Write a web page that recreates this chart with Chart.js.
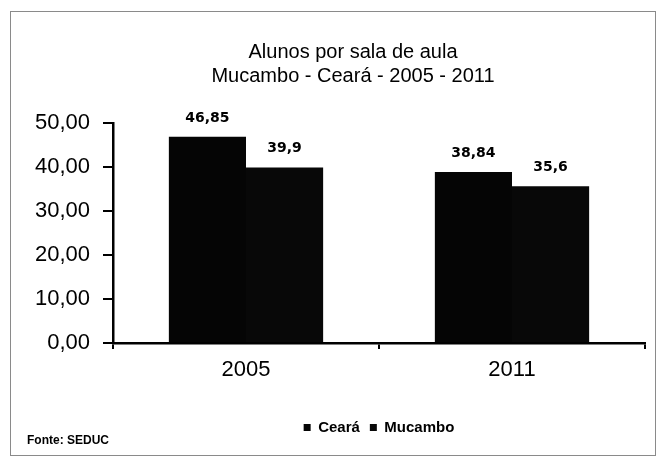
<html>
<head>
<meta charset="utf-8">
<title>Alunos por sala de aula</title>
<script src="https://cdn.jsdelivr.net/npm/chart.js@4.4.1/dist/chart.umd.min.js"></script>
<style>
  body { margin: 0; background: #fff; }
  #wrap { position: relative; width: 664px; height: 462px; }
  #frame { position: absolute; left: 10px; top: 11px; width: 644px; height: 443px; border: 1.5px solid #8a8a8a; }
  #fonte { position: absolute; left: 27px; top: 433px; font: bold 12px "Liberation Sans", Arial, sans-serif; color: #000; }
  canvas { position: absolute; left: 0; top: 0; }
</style>
</head>
<body>
<div id="wrap">
  <div id="frame"></div>
  <canvas id="chart" width="664" height="462"></canvas>
  <div id="fonte">Fonte: SEDUC</div>
</div>
<script>
  // dados
  var anos = ["2005", "2011"];
  var ceara = [46.85, 38.84];
  var mucambo = [39.9, 35.6];
  var yTicks = [0, 10, 20, 30, 40, 50];
  var titulo = ['Alunos por sala de aula', 'Mucambo - Ceará - 2005 - 2011'];

  function virgula(v) { return String(v).replace('.', ','); }

  // rotulos em cima das barras + titulo (centrado como no original)
  var rotulos = {
    id: 'rotulos',
    afterDatasetsDraw: function (chart) {
      var ctx = chart.ctx;
      ctx.save();
      ctx.font = 'bold 14px "DejaVu Sans", sans-serif';
      ctx.fillStyle = '#000';
      ctx.textAlign = 'center';
      ctx.textBaseline = 'alphabetic';
      chart.data.datasets.forEach(function (ds, i) {
        chart.getDatasetMeta(i).data.forEach(function (bar, j) {
          ctx.fillText(virgula(ds.data[j]), bar.x, bar.y - 15);
        });
      });
      ctx.font = '20px "Liberation Sans", Arial, sans-serif';
      ctx.textBaseline = 'middle';
      titulo.forEach(function (t, k) {
        ctx.fillText(t, 353, 52 + k * 24);
      });
      ctx.restore();
    }
  };

  var ctx = document.getElementById("chart").getContext("2d");
  var grafico = new Chart(ctx, {
    type: 'bar',
    data: {
      labels: anos,
      datasets: [
        { label: 'Ceará', data: ceara, backgroundColor: '#050505', borderWidth: 0 },
        { label: 'Mucambo', data: mucambo, backgroundColor: '#080808', borderWidth: 0 }
      ]
    },
    options: {
      responsive: false,
      animation: false,
      categoryPercentage: 0.58,
      barPercentage: 1,
      layout: { padding: { left: 20, right: 19, top: 123, bottom: 17 } },
      plugins: {
        title: { display: false },
        legend: {
          position: 'bottom',
          fullSize: false,
          labels: {
            color: '#000',
            boxWidth: 7,
            boxHeight: 7,
            padding: 10,
            font: { family: '"Liberation Sans", Arial, sans-serif', size: 15, weight: 'bold' }
          }
        },
        tooltip: { enabled: false }
      },
      scales: {
        x: {
          grid: { drawOnChartArea: false, drawTicks: true, tickLength: 6, color: '#000', lineWidth: 2, offset: true },
          border: { display: true, color: '#000', width: 2.5 },
          ticks: { color: '#000', padding: 8, font: { family: '"Liberation Sans", Arial, sans-serif', size: 22 } },
          afterFit: function (s) { s.height = 67; }
        },
        y: {
          min: 0,
          max: 50,
          afterBuildTicks: function (s) { s.ticks = yTicks.map(function (v) { return { value: v }; }); },
          grid: { drawOnChartArea: false, drawTicks: true, tickLength: 10, color: '#000', lineWidth: 2 },
          border: { display: true, color: '#000', width: 2.5 },
          ticks: {
            color: '#000',
            padding: 13,
            font: { family: '"Liberation Sans", Arial, sans-serif', size: 22 },
            callback: function (v) { return v.toFixed(2).replace('.', ','); }
          },
          afterFit: function (s) { s.width = 93; }
        }
      }
    },
    plugins: [rotulos]
  });
</script>
</body>
</html>
